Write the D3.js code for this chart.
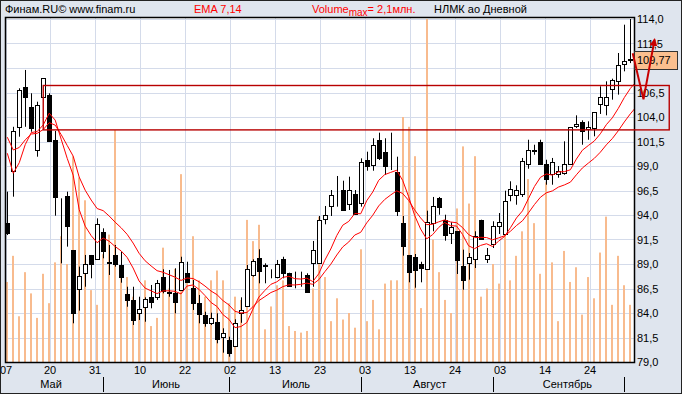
<!DOCTYPE html>
<html><head><meta charset="utf-8">
<script src="https://cdn.jsdelivr.net/npm/d3@7"></script>
<style>body{margin:0;background:#fff} svg{display:block}</style>
</head><body><svg id="c" width="682" height="394"></svg>
<script>
// ---- data ----
const opens  = [93.15,98.52,103.0,107.03,105.05,100.63,106.01,106.24,101.65,94.0,95.94,90.43,86.45,88.05,89.92,89.51,92.3,89.2,89.92,88.9,85.94,85.33,84.03,84.64,85.6,85.6,87.64,86.1,86.07,86.35,88.05,86.52,84.99,83.77,83.01,83.11,81.52,81.24,80.63,84.0,84.71,87.88,89.58,88.85,88.0,87.64,89.51,88.05,87.4,87.8,87.88,89.07,89.07,93.56,94.95,96.1,96.55,95.09,96.11,95.19,99.61,99.1,101.65,100.4,99.2,98.39,93.15,89.89,89.74,89.0,88.52,93.18,95.73,93.52,92.16,92.34,88.77,89.1,89.51,93.46,89.54,91.04,92.85,92.06,96.07,96.07,96.14,99.23,100.55,101.45,99.23,98.18,98.2,98.26,99.23,103.05,103.46,102.78,102.88,105.33,105.19,106.86,107.7,109.41,109.9];
const highs  = [96.38,103.0,106.93,108.8,106.42,105.56,107.95,106.42,102.57,95.7,96.38,90.43,88.73,89.92,89.92,93.66,92.64,90.94,90.94,90.26,86.68,86.68,85.66,85.6,86.86,87.37,88.46,88.39,88.56,89.74,89.23,87.37,85.84,84.13,84.03,83.97,82.44,81.58,83.36,85.6,88.9,89.48,90.5,89.07,88.46,89.41,89.74,88.11,88.22,88.22,88.05,91.35,93.9,94.92,96.55,97.98,97.5,97.91,96.55,99.78,100.46,101.83,102.4,101.83,102.4,99.95,93.9,89.92,90.02,89.23,94.44,95.84,95.84,94.03,93.26,92.34,90.46,90.12,92.34,93.52,90.63,93.36,94.2,96.48,97.44,97.03,99.82,101.68,101.17,101.68,99.64,99.82,99.0,101.52,102.98,104.17,103.66,103.56,104.48,107.13,107.64,107.91,110.53,113.42,114.0];
const lows   = [91.96,95.87,101.99,103.0,102.5,99.95,105.94,101.48,93.93,89.07,90.77,82.95,84.24,86.68,87.54,89.41,89.58,87.88,88.73,87.09,84.64,82.78,83.29,83.11,84.48,85.33,86.01,85.66,83.97,86.35,87.1,84.31,82.95,82.6,82.78,80.91,79.95,79.54,80.56,83.0,84.64,87.71,87.03,87.03,87.54,87.54,87.54,86.68,86.52,86.68,86.17,86.68,89.07,93.05,93.9,94.85,94.51,94.51,94.0,94.85,98.52,98.52,99.61,98.08,98.59,93.9,89.85,87.13,86.58,87.13,88.42,92.34,94.03,91.38,91.04,87.98,86.38,87.4,88.59,91.52,89.1,90.63,92.06,91.99,95.4,95.05,95.84,98.72,100.15,99.13,97.09,97.09,97.8,98.11,99.13,102.88,101.17,101.68,102.03,104.31,104.17,105.77,106.28,108.66,109.5];
const closes = [92.13,102.57,106.76,106.07,102.85,105.22,107.95,101.55,95.87,93.95,92.91,84.03,87.78,89.0,89.0,93.08,90.36,89.15,89.0,87.7,85.33,83.29,84.38,85.4,85.15,87.09,86.28,86.05,85.15,89.17,87.2,85.05,83.9,82.95,83.46,81.32,81.93,79.95,82.95,84.3,88.46,89.34,88.32,88.8,87.95,89.0,88.05,86.79,87.35,87.82,86.17,90.43,93.49,93.97,96.04,96.12,94.51,96.55,94.07,99.44,99.0,101.14,99.85,99.03,99.22,94.44,90.87,88.22,88.39,88.56,93.29,94.89,94.79,91.93,92.75,89.44,87.4,89.68,91.89,91.58,89.95,92.91,93.28,95.4,96.68,96.58,99.46,100.6,100.65,99.23,97.7,99.38,98.5,99.2,102.98,103.32,102.54,102.95,104.48,106.01,106.01,107.78,109.28,109.68,109.77];
const volumes = [0.49,0.65,0.28,0.55,0.42,0.27,0.54,0.36,0.61,0.77,0.6,1.26,1.13,0.99,0.44,0.35,0.66,0.78,1.42,0.55,0.52,0.4,0.3,0.5,0.22,0.27,0.7,0.45,0.57,1.15,0.5,0.77,0.5,0.4,0.5,0.56,0.5,0.36,0.4,0.38,0.87,0.74,0.84,0.2,0.34,0.47,0.5,0.22,0.19,0.18,0.19,0.45,0.89,0.52,0.25,0.39,0.26,0.3,0.21,0.69,0.25,0.38,0.2,0.48,0.5,0.5,1.5,1.44,1.26,0.33,2.1,0.75,0.55,0.38,0.3,0.94,1.32,0.97,1.26,0.4,0.45,0.6,0.48,0.8,0.5,0.65,0.8,1.12,0.85,0.54,1.1,0.61,0.25,0.68,0.49,0.58,0.29,0.52,0.39,0.67,0.89,0.35,0.65,0.47,0.35];
const ema7Seed = 100.3, ema14Seed = 101.94;
const volumeMax = 2.1;
const yTicks = [79,81.5,84,86.5,89,91.5,94,96.5,99,101.5,104,106.5,109,111.5,114];
const dateTickIdx = [-0.2,7.1,14.6,22.2,29.7,37.2,44.7,52.2,59.7,67.2,74.7,82.3,89.8,97.3];
const dateTickLabels = ["07","20","31","10","22","02","13","23","03","13","24","03","14","24"];
const monthBounds = [16,37,59,81,103];
const monthLabelIdx = [7.3,26.5,48.2,70.5,93.5];
const monthNames = ["Май","Июнь","Июль","Август","Сентябрь"];
const boxLevels = [107.27,102.74];
const boxIdx = [6,110.5];
const lastPrice = 109.77;
const arrowPts = [[104.4,110.5],[106.2,105.8],[108.05,111.9]];

// ---- layout ----
const W=682,H=394, L=6, R=634, T=18, B=362;
const FONT='"Liberation Sans", Arial, sans-serif';
const svg=d3.select("#c");
const x=d3.scaleLinear().domain([0,104]).range([7.3,630.3]);
const y=d3.scaleLinear().domain([79,114]).range([362,19]);
const yv=d3.scaleLinear().domain([0,volumeMax]).range([362,19]);
const px=v=>Math.round(x(v));

svg.append("rect").attr("x",0).attr("y",0).attr("width",W).attr("height",H).attr("fill","#dfe5ee");
svg.append("rect").attr("x",L).attr("y",T).attr("width",R-L).attr("height",B-T).attr("fill","#fff");

const defs=svg.append("defs");
defs.append("clipPath").attr("id","clip").append("rect")
  .attr("x",L).attr("y",T).attr("width",R-L).attr("height",B-T);
const plot=svg.append("g").attr("clip-path","url(#clip)");

// grid
plot.append("g").selectAll("line").data(yTicks).join("line")
  .attr("x1",L).attr("x2",R).attr("y1",d=>Math.round(y(d))+0.5).attr("y2",d=>Math.round(y(d))+0.5)
  .attr("stroke","#d4dbea").attr("stroke-width",1);
plot.append("g").selectAll("line").data(dateTickIdx).join("line")
  .attr("x1",d=>px(d)+0.5).attr("x2",d=>px(d)+0.5).attr("y1",T).attr("y2",B)
  .attr("stroke","#d4dbea").attr("stroke-width",1);

// volumes
plot.append("g").selectAll("rect").data(volumes).join("rect")
  .attr("x",(d,i)=>px(i)-1).attr("width",2)
  .attr("y",d=>yv(d)).attr("height",d=>B-yv(d))
  .attr("fill","#f8bb8e");

// candles
const idx=d3.range(closes.length);
const cg=plot.append("g");
cg.selectAll("line").data(idx).join("line")
  .attr("x1",i=>px(i)+0.5).attr("x2",i=>px(i)+0.5)
  .attr("y1",i=>y(highs[i])).attr("y2",i=>y(lows[i]))
  .attr("stroke","#000").attr("stroke-width",1);
cg.selectAll("rect").data(idx).join("rect")
  .attr("x",i=>px(i)-1.5).attr("width",4)
  .attr("y",i=>Math.round(y(Math.max(opens[i],closes[i])))+0.5)
  .attr("height",i=>Math.max(0,Math.round(y(Math.min(opens[i],closes[i])))-Math.round(y(Math.max(opens[i],closes[i])))))
  .attr("fill",i=>closes[i]>=opens[i]?"#fff":"#000")
  .attr("stroke","#000").attr("stroke-width",1);

// EMA lines (value after bar i drawn at next bar position)
function ema(seed,period){const a=2/(period+1);let e=seed;const out=[seed];closes.forEach(c=>{e=e+a*(c-e);out.push(e);});return out;}
const line=d3.line().x((d,i)=>x(i)).y(d=>y(d));
[ema(ema7Seed,7),ema(ema14Seed,14)].forEach(s=>{
  plot.append("path").attr("d",line(s)).attr("fill","none").attr("stroke","#ff0000").attr("stroke-width",1);
});

// plot border
svg.append("rect").attr("x",L-0.5).attr("y",T-0.5).attr("width",R-L+1).attr("height",B-T+1)
  .attr("fill","none").attr("stroke","#000").attr("stroke-width",1.5);

// rectangle annotation
svg.append("rect").attr("x",x(boxIdx[0])).attr("y",Math.round(y(boxLevels[0]))+0.5)
  .attr("width",x(boxIdx[1])-x(boxIdx[0])).attr("height",y(boxLevels[1])-y(boxLevels[0]))
  .attr("fill","none").attr("stroke","#b80000").attr("stroke-width",1.4);

// y axis (the tick hidden by the last-price box is not drawn)
const ly=y(lastPrice);
const shownTicks=yTicks.filter(t=>Math.abs(y(t)-ly)>12);
const yAxis=d3.axisRight(y).tickValues(shownTicks).tickSize(0).tickPadding(3)
  .tickFormat(d=>d3.format(".1f")(d).replace(".",","));
const ya=svg.append("g").attr("transform",`translate(${R},0)`).call(yAxis);
ya.select(".domain").remove();
ya.selectAll("text").attr("font-family",FONT).attr("font-size",11).attr("fill","#000");

// date labels
svg.append("g").selectAll("text").data(dateTickIdx).join("text")
  .attr("x",d=>px(d)).attr("y",374).attr("text-anchor","middle")
  .attr("font-family",FONT).attr("font-size",11).attr("fill","#000")
  .text((d,i)=>dateTickLabels[i]);
svg.append("g").selectAll("line").data(monthBounds).join("line")
  .attr("x1",d=>px(d)+0.5).attr("x2",d=>px(d)+0.5).attr("y1",377).attr("y2",392)
  .attr("stroke","#000").attr("stroke-width",1);
svg.append("g").selectAll("text").data(monthLabelIdx).join("text")
  .attr("x",d=>x(d)).attr("y",388).attr("text-anchor","middle")
  .attr("font-family",FONT).attr("font-size",11).attr("fill","#000")
  .text((d,i)=>monthNames[i]);

// last price label
svg.append("rect").attr("x",R+0.5).attr("y",Math.round(ly)-8.5).attr("width",43).attr("height",18)
  .attr("fill","#fbbf8f").attr("stroke","#333").attr("stroke-width",1);
svg.append("text").attr("x",R+3).attr("y",ly+4).attr("font-family",FONT).attr("font-size",11)
  .attr("fill","#000").text(d3.format(".2f")(lastPrice).replace(".",","));

// arrow
defs.append("marker").attr("id","ah").attr("viewBox","0 0 10 10").attr("refX",8).attr("refY",5)
  .attr("markerWidth",4).attr("markerHeight",4).attr("orient","auto")
  .append("path").attr("d","M0,0L10,5L0,10z").attr("fill","#c80000");
svg.append("path").attr("d",d3.line().x(d=>x(d[0])).y(d=>y(d[1]))(arrowPts))
  .attr("fill","none").attr("stroke","#c80000").attr("stroke-width",2).attr("marker-end","url(#ah)");

// header
const hd=svg.append("g").attr("font-family",FONT).attr("font-size",11);
hd.append("text").attr("x",5).attr("y",13).attr("fill","#000").text("Финам.RU©  www.finam.ru");
hd.append("text").attr("x",194).attr("y",13).attr("fill","#ff0000").text("EMA 7,14");
const vt=hd.append("text").attr("x",312).attr("y",13).attr("fill","#ff0000");
vt.append("tspan").text("Volume");
vt.append("tspan").attr("dy",3).attr("font-size",10).text("max");
vt.append("tspan").attr("dy",-3).text("= "+String(volumeMax).replace(".",",")+"млн.");
hd.append("text").attr("x",434).attr("y",13).attr("fill","#000").text("НЛМК ао Дневной");

// outer frame
svg.append("rect").attr("x",0.5).attr("y",0.5).attr("width",W-1).attr("height",H-1)
  .attr("fill","none").attr("stroke","#222").attr("stroke-width",1);
</script></body></html>
